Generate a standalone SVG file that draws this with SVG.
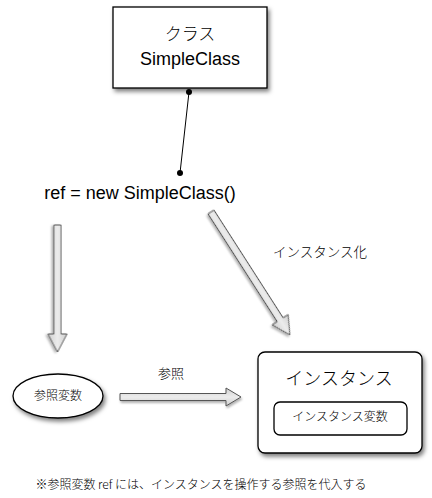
<svg xmlns="http://www.w3.org/2000/svg" width="432" height="498" viewBox="0 0 432 498">
<defs>
<filter id="sh" x="-20%" y="-20%" width="150%" height="150%">
<feDropShadow dx="2" dy="3" stdDeviation="2" flood-color="#000" flood-opacity="0.5"/>
</filter>
<filter id="sh2" x="-20%" y="-50%" width="150%" height="200%">
<feDropShadow dx="1" dy="2" stdDeviation="1.2" flood-color="#000" flood-opacity="0.3"/>
</filter>
<linearGradient id="ag" x1="0" y1="0" x2="0" y2="1">
<stop offset="0" stop-color="#cfcfcf"/>
<stop offset="0.5" stop-color="#ececec"/>
<stop offset="1" stop-color="#cfcfcf"/>
</linearGradient>
</defs>
<style>
text{font-family:"Liberation Sans","Noto Sans CJK JP",sans-serif;fill:#000;text-anchor:middle}
.jp{font-family:"Noto Sans CJK JP","Liberation Sans",sans-serif;font-weight:300}
.box{fill:#fff;stroke:#000;stroke-width:1.3}
.arr{fill:url(#ag);stroke:#555;stroke-width:1;stroke-linejoin:miter;filter:url(#sh2)}
</style>
<rect width="432" height="498" fill="#fff"/>

<g id="class-node">
<rect class="box" x="113" y="7" width="154" height="81" filter="url(#sh)"/>
<text class="jp" x="190" y="40" font-size="17">クラス</text>
<text x="190" y="65" font-size="18">SimpleClass</text>
</g>

<g id="code-node">
<text x="140" y="199" font-size="18">ref = new SimpleClass()</text>
</g>

<g id="refvar-node">
<ellipse class="box" cx="58" cy="396" rx="45" ry="22" filter="url(#sh)"/>
<text class="jp" x="58" y="400" font-size="12">参照変数</text>
</g>

<g id="instance-node">
<rect class="box" x="258" y="352" width="164" height="101" rx="7" filter="url(#sh)"/>
<text class="jp" x="339" y="385" font-size="18">インスタンス</text>
<rect class="box" x="274" y="402" width="133" height="33" rx="6" stroke-width="1"/>
<text class="jp" x="340" y="421" font-size="12">インスタンス変数</text>
</g>

<g id="connectors">
<line x1="189" y1="92" x2="180" y2="173" stroke="#000" stroke-width="1"/>
<circle cx="189" cy="92" r="3" fill="#000"/>
<circle cx="180" cy="173" r="3" fill="#000"/>
<polygon class="arr" transform="translate(57.5,225) rotate(90)" points="0,-3.5 109,-3.5 109,-9.5 127,0 109,9.5 109,3.5 0,3.5"/>
<polygon class="arr" transform="translate(211,212) rotate(57.3)" points="0,-3.5 128,-3.5 128,-9.5 146,0 128,9.5 128,3.5 0,3.5"/>
<polygon class="arr" transform="translate(120,397)" points="0,-3.5 106,-3.5 106,-9 121,0 106,9 106,3.5 0,3.5"/>
<text class="jp" x="320" y="257" font-size="13.5">インスタンス化</text>
<text class="jp" x="171" y="378" font-size="13">参照</text>
</g>

<g id="note">
<text class="jp" x="201" y="489" font-size="12">※参照変数 ref には、インスタンスを操作する参照を代入する</text>
</g>
</svg>
